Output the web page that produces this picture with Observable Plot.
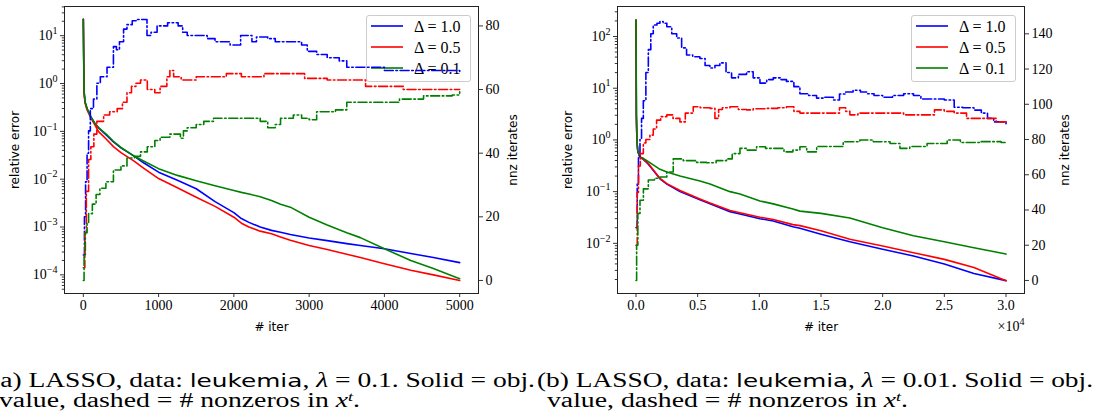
<!DOCTYPE html>
<html>
<head>
<meta charset="utf-8">
<script src="https://cdn.jsdelivr.net/npm/d3@7"></script>
<script src="https://cdn.jsdelivr.net/npm/@observablehq/plot@0.6"></script>
<style>
  body { margin: 0; background: #fff; }
  #fig { position: relative; width: 1096px; height: 418px; overflow: hidden; background: #fff; }
  .panel { position: absolute; top: 0; width: 548px; height: 340px; }
  .layer { position: absolute; left: 0; top: 0; }
  .legend { position: absolute; background: rgba(255,255,255,0.8); border: 1px solid #cccccc; border-radius: 3px; box-sizing: border-box; }
  #caption { position: absolute; left: 0; top: 0; }
</style>
</head>
<body>
<div id="fig"></div>
<script>
// ---------------- data ----------------
const seriesLabels = ["Δ = 1.0", "Δ = 0.5", "Δ = 0.1"];

// panel (a): relative error (left, log axis)
const aErrIter = [0, 10, 25, 50, 100, 150, 200, 300, 400, 500, 665, 800, 1000, 1250, 1500, 1750, 2000, 2100, 2200, 2350, 2500, 2620, 2750, 3000, 3240, 3500, 3680, 4000, 4350, 4650, 5000];
const aErr10 = [22, 0.7, 0.4, 0.3, 0.2, 0.15, 0.12, 0.085, 0.06, 0.045, 0.031, 0.022, 0.014, 0.0095, 0.0063, 0.0034, 0.002, 0.0015, 0.00125, 0.001, 0.00085, 0.00078, 0.0007, 0.00059, 0.00052, 0.00045, 0.00041, 0.00035, 0.00028, 0.00023, 0.00018];
const aErr05 = [22, 0.6, 0.38, 0.28, 0.19, 0.14, 0.1, 0.07, 0.048, 0.036, 0.0245, 0.017, 0.0103, 0.0066, 0.0042, 0.0027, 0.0016, 0.0012, 0.001, 0.00082, 0.00072, 0.00062, 0.00053, 0.00041, 0.00034, 0.00027, 0.00023, 0.00017, 0.000125, 0.0001, 0.000076];
const aErr01 = [22, 0.65, 0.4, 0.3, 0.2, 0.15, 0.12, 0.089, 0.062, 0.046, 0.031, 0.024, 0.0166, 0.012, 0.0093, 0.0073, 0.0058, 0.0053, 0.0049, 0.0043, 0.0036, 0.003, 0.0026, 0.0016, 0.0011, 0.00076, 0.0006, 0.00035, 0.0002, 0.000135, 0.000083];

// panel (a): nnz iterates (right axis)
const aNnzIter10 = [0, 15, 30, 50, 70, 93, 135, 180, 226, 315, 400, 440, 480, 535, 580, 650, 720, 800, 846, 900, 980, 1050, 1120, 1200, 1260, 1320, 1380, 1550, 1645, 1750, 1900, 1950, 2090, 2240, 2300, 2450, 2550, 2650, 2800, 2900, 2975, 3100, 3240, 3400, 3500, 3700, 4000, 4300, 4600, 4900, 5000];
const aNnz10 = [8, 20, 31, 40, 47, 54, 57, 62, 64, 67, 73.5, 72.5, 75, 79, 80.4, 81.6, 82, 82, 77, 78, 80, 80, 81, 81, 80, 78, 77, 77, 76, 75, 75, 74, 77, 75, 76.5, 76, 75, 75, 75, 74, 72, 71, 70, 69, 67, 67, 66, 66, 66, 66, 65];
const aNnzIter05 = [0, 20, 40, 70, 100, 140, 180, 270, 350, 450, 520, 580, 640, 700, 760, 850, 950, 1020, 1080, 1110, 1150, 1200, 1300, 1500, 1700, 1900, 2100, 2400, 2700, 2940, 3240, 3750, 4250, 5000];
const aNnz05 = [4, 15, 28, 38, 42, 46, 50, 52, 53, 54, 56, 59, 61, 62, 63, 60, 59, 61, 61, 64, 66, 64, 63, 64, 64, 65, 64, 65, 65, 63.5, 63, 61, 60, 60];
const aNnzIter01 = [0, 10, 27, 50, 70, 120, 170, 220, 300, 400, 500, 580, 680, 760, 850, 950, 1020, 1150, 1290, 1330, 1380, 1500, 1600, 1730, 1850, 2000, 2200, 2350, 2450, 2550, 2620, 2790, 2900, 3000, 3100, 3350, 3500, 3700, 4100, 4200, 4470, 4520, 4900, 5000];
const aNnz01 = [0, 8, 15, 18, 21, 24, 27, 29, 31, 34.7, 36, 38.5, 39, 40.4, 42, 44, 45, 46, 44.7, 47, 48, 49, 50, 51, 51, 51, 51, 50, 48, 49, 51, 52, 51, 50.5, 53, 53.6, 56, 56, 56, 57, 57, 58, 58.3, 59.3];

// panel (b): relative error
const bErrIter = [0, 30, 80, 150, 324, 600, 1000, 1945, 2500, 3566, 5180, 6000, 7620, 8430, 10050, 11130, 12720, 13290, 15000, 17340, 20000, 22500, 25000, 27400, 30000];
const bErr10 = [209, 3, 0.9, 0.6, 0.46, 0.42, 0.34, 0.177, 0.14, 0.1, 0.07, 0.058, 0.041, 0.037, 0.03, 0.027, 0.021, 0.0195, 0.015, 0.0107, 0.0077, 0.0057, 0.004, 0.0026, 0.0019];
const bErr05 = [209, 3, 0.9, 0.6, 0.46, 0.42, 0.35, 0.18, 0.143, 0.105, 0.072, 0.06, 0.043, 0.039, 0.032, 0.029, 0.023, 0.022, 0.0175, 0.012, 0.0089, 0.0066, 0.0049, 0.0034, 0.0019];
const bErr01 = [209, 3, 0.9, 0.6, 0.47, 0.44, 0.38, 0.27, 0.24, 0.2, 0.16, 0.14, 0.1, 0.09, 0.066, 0.058, 0.046, 0.042, 0.038, 0.031, 0.02, 0.014, 0.0107, 0.0082, 0.0062];

// panel (b): nnz iterates
const bNnzIter10 = [0, 100, 200, 324, 450, 594, 800, 1000, 1200, 1400, 1700, 1940, 2200, 2500, 2900, 3300, 3700, 4100, 4600, 5180, 5600, 5990, 6400, 6800, 7300, 7750, 8300, 8970, 9500, 10050, 10600, 11130, 11700, 12200, 12800, 13290, 14000, 14640, 15300, 16000, 16500, 17000, 17600, 18200, 18700, 19300, 20000, 20800, 21700, 22500, 23100, 24000, 25000, 25800, 26500, 27400, 28000, 28500, 29000, 29600, 30000];
const bNnz10 = [30, 55, 70, 80, 92, 102, 118, 131, 140, 145, 146, 147, 146, 144, 140, 137.6, 132, 128, 127, 126, 122, 120.6, 122, 123.5, 118, 115, 117, 118.5, 115, 112, 114, 115, 114, 113, 110, 106, 105, 103.5, 104, 102.4, 105.8, 107, 108, 107, 106, 105, 104, 105, 106, 105, 103, 103, 102.4, 98.3, 98, 96.7, 95, 92, 90, 90, 89];
const bNnzIter05 = [0, 100, 200, 350, 594, 800, 1130, 1400, 1670, 2000, 2500, 3000, 3560, 4000, 4640, 5200, 6000, 6400, 6700, 7000, 7620, 8300, 8970, 9500, 10590, 11500, 12200, 12800, 13290, 15000, 16000, 16500, 17000, 17340, 18000, 18700, 20000, 21300, 21700, 23600, 24200, 25000, 25800, 26800, 28500, 29200, 30000];
const bNnz05 = [20, 50, 65, 72, 78, 80, 82.5, 86, 91, 93, 94, 92, 90, 95, 98.6, 98, 97.7, 92, 97, 98, 98.6, 97, 96.8, 97.5, 97.7, 98, 98.6, 96, 95, 95, 95, 98, 96, 94, 95, 95, 95, 95, 94, 94, 96.8, 96, 95, 92, 92, 90, 90];
const bNnzIter01 = [0, 50, 150, 324, 600, 1000, 1500, 1945, 2500, 3020, 3830, 4910, 5720, 6500, 7340, 7800, 8430, 9000, 9780, 10500, 11130, 12000, 12720, 13290, 13840, 14650, 16000, 16800, 18150, 19240, 20600, 21400, 22200, 23600, 25230, 26300, 27900, 29600, 30000];
const bNnz01 = [0, 20, 38, 45.5, 52, 57, 58, 58.7, 61.6, 69, 68, 67, 66.8, 68, 69, 72, 75, 74, 75.9, 75, 75, 73, 74, 75.9, 73, 76, 76, 78.7, 79.7, 78.7, 77.7, 75, 76, 77.7, 79.7, 78.3, 78.8, 78.3, 78.3];

// tick values
const aLogTicks = [1e-4, 1e-3, 1e-2, 1e-1, 1e0, 1e1];
const bLogTicks = [1e-2, 1e-1, 1e0, 1e1, 1e2];
const aNnzTicks = [0, 20, 40, 60, 80];
const bNnzTicks = [0, 20, 40, 60, 80, 100, 120, 140];
const aIterTicks = [0, 1000, 2000, 3000, 4000, 5000];
const bIterTicks = [0, 5000, 10000, 15000, 20000, 25000, 30000];

// ---------------- drawing ----------------
const colors = ["#0000ff", "#ff0000", "#008000"];
const SERIF = "'Liberation Serif', 'DejaVu Serif', serif";
const SANS = "'DejaVu Sans', 'Liberation Sans', sans-serif";
const SVGNS = "http://www.w3.org/2000/svg";

function rows(xs, ys) { return xs.map((x, i) => ({x, y: ys[i]})); }

function minorTicks(lo, hi) {
  const out = [];
  for (let e = lo; e <= hi; e++) for (let m = 2; m <= 9; m++) out.push(m * 10 ** e);
  return out;
}

function supify(svg) {
  svg.querySelectorAll("text").forEach(t => {
    if (t.children.length) return;
    const s = t.textContent;
    const i = s.indexOf("^");
    if (i < 0) return;
    t.textContent = s.slice(0, i);
    const sup = document.createElementNS(SVGNS, "tspan");
    sup.setAttribute("font-size", "0.72em");
    sup.setAttribute("dy", "-0.62em");
    sup.textContent = s.slice(i + 1);
    t.appendChild(sup);
  });
}

const logFmt = d => "10^" + String(Math.round(Math.log10(d))).replace("-", "−");

function makePanel(cfg) {
  const panel = document.createElement("div");
  panel.className = "panel";
  panel.style.left = cfg.left + "px";
  const common = {
    width: 548, height: 340,
    marginTop: 6, marginBottom: 47, marginLeft: cfg.ml, marginRight: cfg.mr,
    style: {fontFamily: SERIF, fontSize: "14px", color: "black", background: "transparent", overflow: "visible"}
  };
  // bottom layer: relative error (log)
  const errMarks = cfg.err.map((ys, k) =>
    Plot.line(rows(cfg.errIter, ys), {x: "x", y: "y", stroke: colors[k], strokeWidth: 1.6}));
  const A = Plot.plot({
    ...common,
    x: {domain: cfg.xDomain},
    y: {type: "log", domain: cfg.logDomain},
    marks: [
      Plot.axisY({ticks: minorTicks(cfg.minorLo, cfg.minorHi).filter(v => v >= cfg.logDomain[0] && v <= cfg.logDomain[1]), tickSize: 2.2, text: null, label: null, stroke: "black", strokeWidth: 0.8}),
      Plot.axisY({ticks: cfg.logTicks, tickFormat: logFmt, tickSize: 4, tickPadding: 3, label: null, stroke: "black", strokeWidth: 0.8}),
      Plot.axisX({ticks: cfg.iterTicks, tickFormat: cfg.xFmt, tickSize: 4, tickPadding: 3, label: null, stroke: "black", strokeWidth: 0.8}),
      ...errMarks,
      Plot.frame({stroke: "#222", strokeWidth: 1}),
      Plot.text(["relative error"], {frameAnchor: "left", dx: cfg.leftLabelDx, rotate: -90, textAnchor: "middle", lineAnchor: "middle", fontFamily: SANS, fontSize: 12}),
      Plot.text(["# iter"], {frameAnchor: "bottom", dy: 34, textAnchor: "middle", lineAnchor: "middle", fontFamily: SANS, fontSize: 12}),
      ...(cfg.offsetText ? [Plot.text([cfg.offsetText], {frameAnchor: "bottom-right", dy: 33, dx: 0, textAnchor: "end", lineAnchor: "middle", fontFamily: SERIF, fontSize: 14})] : [])
    ]
  });
  A.classList.add("layer");
  supify(A);
  panel.appendChild(A);

  // legend (between the layers)
  const leg = document.createElement("div");
  leg.className = "legend";
  Object.assign(leg.style, {left: cfg.legLeft + "px", top: "15px", width: "105px", height: "67px"});
  const ls = document.createElementNS(SVGNS, "svg");
  ls.setAttribute("width", 103); ls.setAttribute("height", 65);
  ls.style.position = "absolute"; ls.style.left = "0"; ls.style.top = "0";
  seriesLabels.forEach((lab, k) => {
    const yy = 10 + k * 21;
    const ln = document.createElementNS(SVGNS, "line");
    ln.setAttribute("x1", 4); ln.setAttribute("x2", 36);
    ln.setAttribute("y1", yy); ln.setAttribute("y2", yy);
    ln.setAttribute("stroke", colors[k]); ln.setAttribute("stroke-width", 1.6);
    ls.appendChild(ln);
    const tx = document.createElementNS(SVGNS, "text");
    tx.setAttribute("x", 47); tx.setAttribute("y", yy + 5.5);
    tx.setAttribute("font-family", SERIF); tx.setAttribute("font-size", 16);
    tx.textContent = lab;
    ls.appendChild(tx);
  });
  leg.appendChild(ls);
  panel.appendChild(leg);

  // top layer: nnz iterates (linear, right axis)
  const nnzMarks = cfg.nnz.map(([xs, ys], k) =>
    Plot.line(rows(xs, ys), {x: "x", y: "y", stroke: colors[k], strokeWidth: 1.6, curve: "step-after", strokeDasharray: "9,2.6,1.6,2.6"}));
  const B = Plot.plot({
    ...common,
    x: {domain: cfg.xDomain, axis: null},
    y: {domain: cfg.nnzDomain},
    marks: [
      Plot.axisY({anchor: "right", ticks: cfg.nnzTicks, tickSize: 4, tickPadding: 3, label: null, stroke: "black", strokeWidth: 0.8}),
      ...nnzMarks,
      Plot.text(["nnz iterates"], {frameAnchor: "right", dx: cfg.rightLabelDx, rotate: -90, textAnchor: "middle", lineAnchor: "middle", fontFamily: SANS, fontSize: 12})
    ]
  });
  B.classList.add("layer");
  panel.appendChild(B);
  return panel;
}

const fig = document.getElementById("fig");
fig.appendChild(makePanel({
  left: 0, ml: 64, mr: 70,
  xDomain: [-250, 5250], iterTicks: aIterTicks, xFmt: d => String(d),
  logDomain: [10 ** -4.39, 10 ** 1.61], logTicks: aLogTicks, minorLo: -5, minorHi: 1,
  errIter: aErrIter, err: [aErr10, aErr05, aErr01],
  nnzDomain: [-4.1, 86.1], nnzTicks: aNnzTicks,
  nnz: [[aNnzIter10, aNnz10], [aNnzIter05, aNnz05], [aNnzIter01, aNnz01]],
  leftLabelDx: -49, rightLabelDx: 35, legLeft: 366
}));
fig.appendChild(makePanel({
  left: 548, ml: 69, mr: 72,
  xDomain: [-1500, 31500], iterTicks: bIterTicks, xFmt: d => (d / 1e4).toFixed(1),
  logDomain: [10 ** -2.97, 10 ** 2.58], logTicks: bLogTicks, minorLo: -3, minorHi: 2,
  errIter: bErrIter, err: [bErr10, bErr05, bErr01],
  nnzDomain: [-7.4, 155.5], nnzTicks: bNnzTicks,
  nnz: [[bNnzIter10, bNnz10], [bNnzIter05, bNnz05], [bNnzIter01, bNnz01]],
  leftLabelDx: -49, rightLabelDx: 41, legLeft: 363,
  offsetText: "×10^4"
}));

// captions
const cap = document.createElementNS(SVGNS, "svg");
cap.setAttribute("id", "caption");
cap.setAttribute("width", 1096); cap.setAttribute("height", 418);
cap.innerHTML = `
<g font-family="${SERIF}" font-size="20" fill="black">
  <text x="-9" y="387" textLength="544" lengthAdjust="spacingAndGlyphs">(a) LASSO, data: <tspan font-family="${SANS}" font-size="18">leukemia</tspan>, <tspan font-style="italic">λ</tspan> = 0.1.  Solid = obj.</text>
  <text x="-1" y="407" textLength="361" lengthAdjust="spacingAndGlyphs">value, dashed = # nonzeros in <tspan font-style="italic">x</tspan><tspan font-style="italic" font-size="13" dy="-6">t</tspan><tspan dy="6">.</tspan></text>
  <text x="537" y="387" textLength="556" lengthAdjust="spacingAndGlyphs">(b) LASSO, data: <tspan font-family="${SANS}" font-size="18">leukemia</tspan>, <tspan font-style="italic">λ</tspan> = 0.01.  Solid = obj.</text>
  <text x="547" y="407" textLength="361" lengthAdjust="spacingAndGlyphs">value, dashed = # nonzeros in <tspan font-style="italic">x</tspan><tspan font-style="italic" font-size="13" dy="-6">t</tspan><tspan dy="6">.</tspan></text>
</g>`;
fig.appendChild(cap);
</script>
</body>
</html>
